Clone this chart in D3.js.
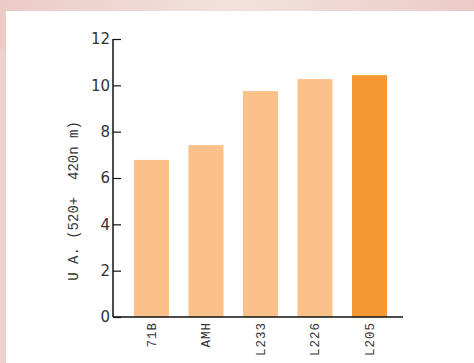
<!DOCTYPE html>
<html><head><meta charset="utf-8">
<script src="https://cdn.jsdelivr.net/npm/d3@7"></script>
<style>body{margin:0;padding:0;overflow:hidden;background:#fff}</style>
</head><body>
<script>
const categories = ["71B", "AMH", "L233", "L226", "L205"];
const values = [6.78, 7.42, 9.75, 10.27, 10.44];
const highlight = [false, false, false, false, true];
const yTicks = [0, 2, 4, 6, 8, 10, 12];
const yLabel = "U A. (520+  420n m)";

const W = 474, H = 363;
const svg = d3.select("body").append("svg").attr("width", W).attr("height", H);

const defs = svg.append("defs");
const g1 = defs.append("radialGradient").attr("id", "bg1");
g1.append("stop").attr("offset", "0%").attr("stop-color", "#f3e6e2");
g1.append("stop").attr("offset", "100%").attr("stop-color", "#ecc9c4");
svg.append("rect").attr("width", W).attr("height", H).attr("fill", "#ecd2cc");
svg.append("rect").attr("x", 0).attr("y", -40).attr("width", W).attr("height", 90).attr("fill", "url(#bg1)").attr("opacity", 0.8);
svg.append("rect").attr("x", 6).attr("y", 11).attr("width", W - 6).attr("height", H - 11).attr("fill", "#ffffff");

const y = d3.scaleLinear().domain([0, 12]).range([317, 39]);
const x = d3.scaleBand().domain(categories).range([124.25, 396.75]).paddingInner(0.358).paddingOuter(0.179);

svg.selectAll("rect.bar").data(values).enter().append("rect")
  .attr("class", "bar")
  .attr("x", (d, i) => x(categories[i]))
  .attr("width", x.bandwidth())
  .attr("y", d => y(d))
  .attr("height", d => y(0) - y(d))
  .attr("fill", (d, i) => highlight[i] ? "#f59733" : "#fbc189");

const yAxis = d3.axisRight(y).tickValues(yTicks).tickSize(8).tickFormat(d3.format("d"));
const ya = svg.append("g").attr("transform", "translate(113,0)").call(yAxis);
ya.select(".domain").attr("d", "M0,39V317").attr("stroke", "#111").attr("stroke-width", 1.5);
ya.selectAll(".tick line").attr("stroke", "#111").attr("stroke-width", 1.2);
ya.selectAll(".tick text")
  .attr("x", -3).attr("dy", "0.32em")
  .attr("text-anchor", "end")
  .attr("font-family", "'DejaVu Sans', sans-serif")
  .attr("font-size", 15).attr("fill", "#333");

const xAxis = d3.axisBottom(x).tickSize(0).tickFormat(d => d);
const xa = svg.append("g").attr("transform", "translate(0,317)").call(xAxis);
xa.select(".domain").attr("d", "M113,0H403").attr("stroke", "#111").attr("stroke-width", 1.5);
xa.selectAll(".tick text")
  .attr("transform", "rotate(-90)")
  .attr("x", -5).attr("y", 0).attr("dy", "0.35em")
  .attr("text-anchor", "end")
  .attr("font-family", "'Liberation Mono', 'Courier New', monospace")
  .attr("font-size", 12.5).attr("letter-spacing", "1px")
  .attr("fill", "#333");

svg.append("text")
  .attr("transform", "translate(78,201) rotate(-90)")
  .attr("text-anchor", "middle")
  .attr("font-family", "'Liberation Mono', 'Courier New', monospace")
  .attr("font-size", 14).attr("letter-spacing", "0px")
  .attr("fill", "#333")
  .attr("xml:space", "preserve")
  .style("white-space", "pre")
  .text(yLabel);
</script>
</body></html>
